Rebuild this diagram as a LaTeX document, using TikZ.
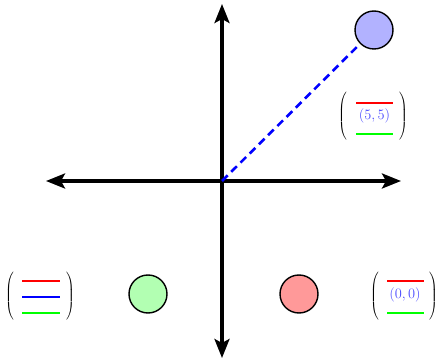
\documentclass[tikz,border=0pt]{standalone}
\usetikzlibrary{arrows.meta}
\newcommand{\tallparen}[1]{$\left#1\vcenter to 48pt{\vfil}\right.$}
\newcommand{\tallparenR}[1]{$\left.\vcenter to 48pt{\vfil}\right#1$}
\begin{document}
\begin{tikzpicture}[x=1pt,y=-1pt,
  axis/.style={line width=3.4pt,{Stealth[length=19pt,width=15pt,inset=4pt]}-{Stealth[length=19pt,width=15pt,inset=4pt]}},
  ball/.style={circle,draw=black,line width=1.4pt,minimum size=38pt,inner sep=0pt},
  bar/.style={line width=1.05pt},
  paren/.style={inner sep=0pt,font=\fontsize{10}{12}\selectfont},
  lbl/.style={inner sep=0pt,text=blue!70,font=\fontsize{14}{16}\selectfont},
  ray/.style={blue,line width=2.6pt,dash pattern=on 8pt off 5pt}]
\useasboundingbox (0,0) rectangle (437,358);
% axes
\coordinate (O) at (222,181);
\coordinate (W) at (46,181);
\coordinate (E) at (401,181);
\coordinate (N) at (222,4);
\coordinate (S) at (222,358);
\draw[axis] (W) -- (E);
\draw[axis] (S) -- (N);
% balls
\node[ball,fill=blue!30] (bb) at (374,30) {};
\node[ball,fill=green!30] (gb) at (148,294) {};
\node[ball,fill=red!40] (rb) at (299,294) {};
\draw[ray] (O) -- (bb);
% top-right bracket
\node[paren] (lp1) at (343,116) {\tallparen(};
\node[paren] (rp1) at (403,116) {\tallparenR)};
\coordinate (r1a) at (356,103); \coordinate (r1b) at (393,103);
\coordinate (g1a) at (356,134); \coordinate (g1b) at (393,134);
\draw[bar,draw=red] (r1a) -- (r1b);
\draw[bar,draw=green] (g1a) -- (g1b);
\node[lbl] (t1) at (374.5,116) {$(5,5)$};
% bottom-left bracket
\node[paren] (lp2) at (10,296) {\tallparen(};
\node[paren] (rp2) at (70,296) {\tallparenR)};
\coordinate (r2a) at (22,281); \coordinate (r2b) at (60,281);
\coordinate (b2a) at (22,297); \coordinate (b2b) at (60,297);
\coordinate (g2a) at (22,313); \coordinate (g2b) at (60,313);
\draw[bar,draw=red] (r2a) -- (r2b);
\draw[bar,draw=blue] (b2a) -- (b2b);
\draw[bar,draw=green] (g2a) -- (g2b);
% bottom-right bracket
\node[paren] (lp3) at (375,296) {\tallparen(};
\node[paren] (rp3) at (433,296) {\tallparenR)};
\coordinate (r3a) at (387,281); \coordinate (r3b) at (424,281);
\coordinate (g3a) at (387,313); \coordinate (g3b) at (424,313);
\draw[bar,draw=red] (r3a) -- (r3b);
\draw[bar,draw=green] (g3a) -- (g3b);
\node[lbl] (t3) at (405,295) {$(0,0)$};
\end{tikzpicture}
\end{document}
